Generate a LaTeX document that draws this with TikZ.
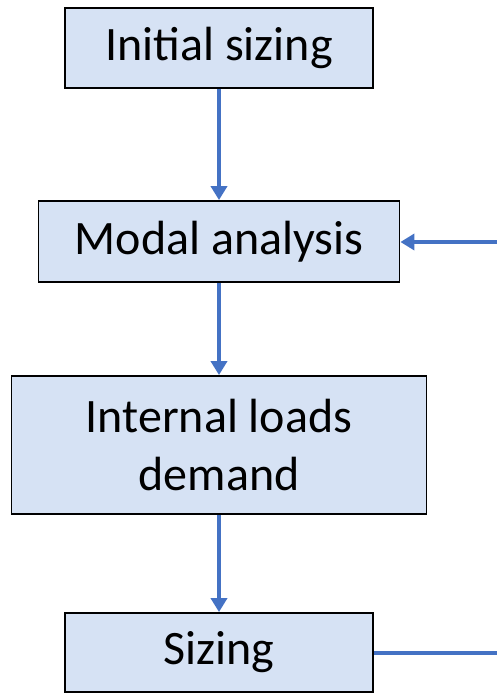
\documentclass[tikz,border=0pt]{standalone}
\usepackage{fontspec}
\setmainfont{Carlito}
\usepackage{tikz}
\usetikzlibrary{positioning}
\usetikzlibrary{arrows.meta}
\usepackage{xcolor}
\definecolor{flowblue}{HTML}{4472C4}
\definecolor{boxfill}{HTML}{D6E2F4}

\begin{document}
\begin{tikzpicture}[x=1pt,y=-1pt,on grid,
        every node/.style={font=\fontsize{48}{58}\selectfont},
        blk/.style={draw=black, line width=1.8pt, fill=boxfill, align=center, inner sep=0pt},
        wire/.style={draw=flowblue, line width=4.5pt},
        flow/.style={wire, -{Triangle[length=14pt,width=16pt]}}]

        \useasboundingbox (0,0) rectangle (497,693);

        \node[blk, minimum width=308pt, minimum height=80pt]  (init) at (219,48) {Initial sizing};
        \node[blk, minimum width=361pt, minimum height=81pt]  (modal) [below=193.5pt of init] {Modal analysis};
        \node[blk, minimum width=415pt, minimum height=138pt] (loads) [below=203.5pt of modal] {Internal loads\\demand};
        \node[blk, minimum width=308pt, minimum height=79pt]  (sizing) [below=207.5pt of loads] {Sizing};

        \coordinate (fbin) at (497,242);
        \coordinate (fbout) at (497,653);

        \draw[flow] (init.south) -- (modal.north);
        \draw[flow] (modal.south) -- (loads.north);
        \draw[flow] (loads.south) -- (sizing.north);
        \draw[flow] (fbin) -- (modal.east |- fbin);
        \draw[wire] (sizing.east |- fbout) -- (fbout);

      \end{tikzpicture}
\end{document}
